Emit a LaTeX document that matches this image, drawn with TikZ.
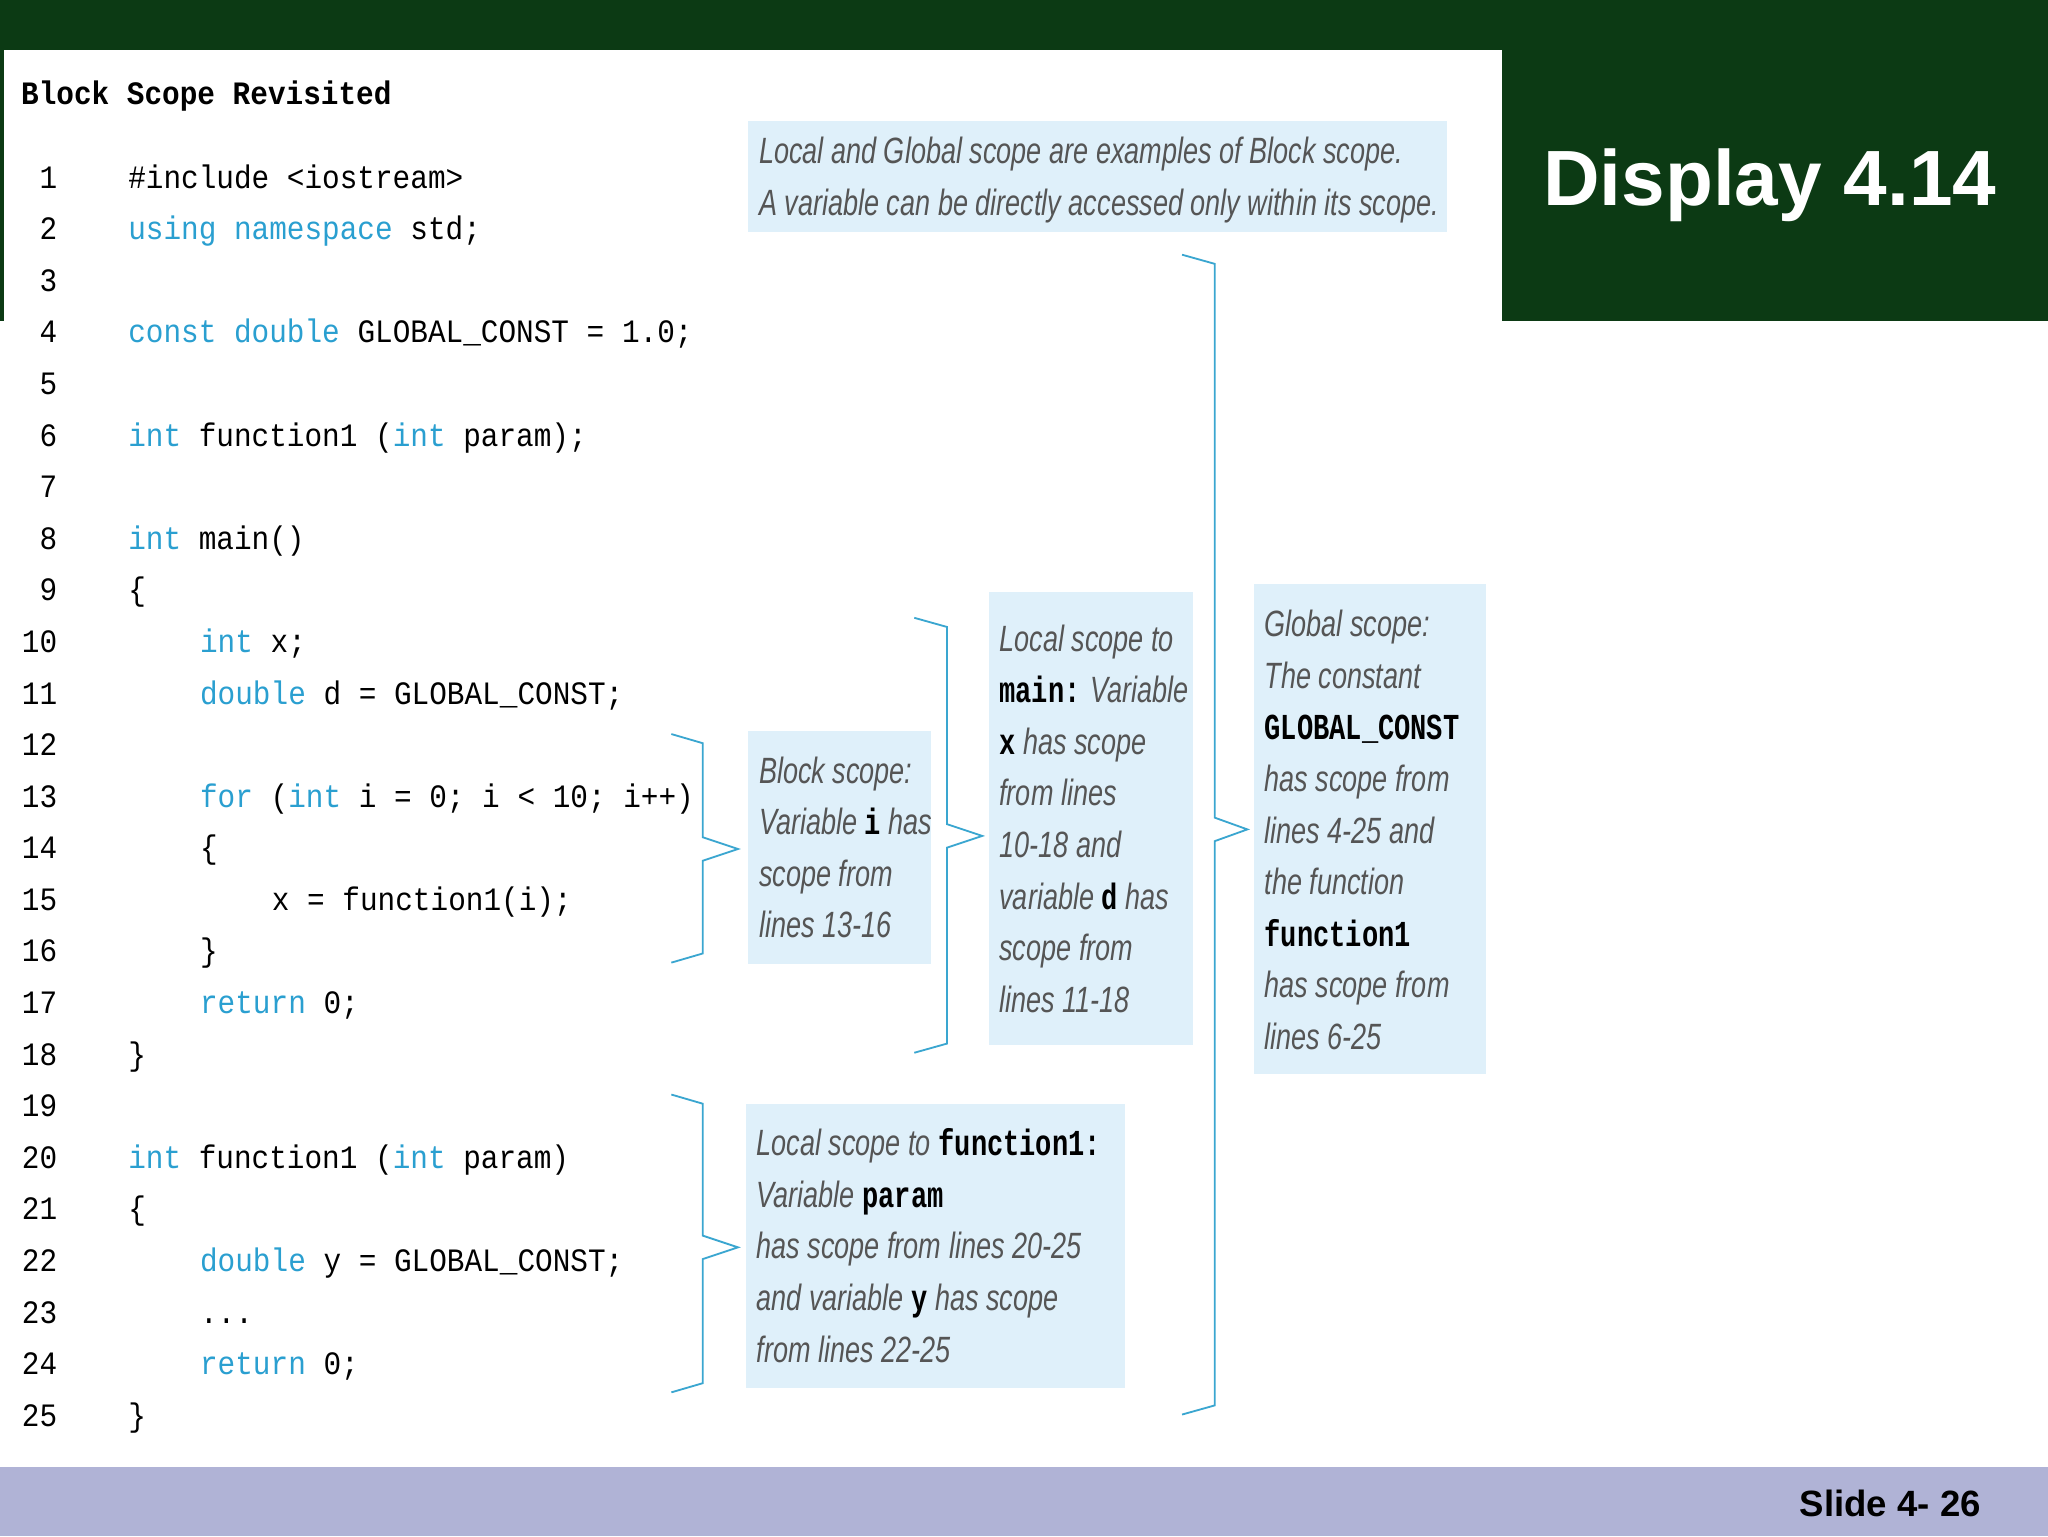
\documentclass[tikz,border=0pt]{standalone}
\usepackage{fontspec}
\setmainfont{Liberation Sans}
\setmonofont{Liberation Mono}
\newfontfamily\callfont{Liberation Sans}[FakeStretch=0.74]
\newfontfamily\codefont{Liberation Mono}[FakeStretch=0.9]
\newfontfamily\cbfont{Liberation Mono}[FakeStretch=0.74]
\usetikzlibrary{positioning}
\definecolor{slidegreen}{HTML}{0C3A14}
\definecolor{barblue}{HTML}{B0B3D6}
\definecolor{kwblue}{HTML}{2A9FD0}
\definecolor{boxblue}{HTML}{DFF0FA}
\definecolor{bracecol}{HTML}{3AA6D0}
\definecolor{notegray}{HTML}{555555}
\newcommand{\kw}[1]{\textcolor{kwblue}{#1}}
\newcommand{\cb}[1]{{\cbfont\upshape\bfseries\color{black}#1}}
\tikzset{
  codeline/.style={anchor=base west,inner sep=0pt,font=\codefont\fontsize{25}{30}\selectfont},
  lineno/.style={anchor=base east,inner sep=0pt,font=\codefont\fontsize{25}{30}\selectfont},
  note/.style={anchor=north west,inner sep=0pt,align=left,text=notegray,
    font=\callfont\itshape\fontsize{28}{39.5}\selectfont},
  notebox/.style={fill=boxblue,draw=none},
  brace/.style={draw=bracecol,line width=1.4pt,line join=miter}
}
\begin{document}
\begin{tikzpicture}[x=1pt,y=-1pt]
    \useasboundingbox (0,0) rectangle (1568,1176);
    % Slide frame
    \fill[slidegreen] (0,0) rectangle (1568,38);
    \fill[slidegreen] (1150,38) rectangle (1568,246);
    \fill[slidegreen] (0,38) rectangle (3,246);
    \fill[barblue] (0,1123) rectangle (1568,1176);
    \node[text=white,font=\bfseries\fontsize{60}{60}\selectfont] (title) at (1355,142) {Display 4.14};
    \node[anchor=east,font=\bfseries\fontsize{28}{28}\selectfont] (slide) at (1520,1151) {Slide 4- 26};
    \node[anchor=base west,inner sep=0pt,font=\codefont\bfseries\fontsize{25}{30}\selectfont] (head) at (16,80) {Block Scope Revisited};

    % Line numbers
    \foreach \n in {1,...,25}
        \node[lineno] (n\n) at (44,{135+(\n-1)*39.5+9}) {\n};

    % Code
    \node[codeline] (c1) at (98,144) {\#include <iostream>};
    \node[codeline] (c2) at (98,183.5) {\kw{using namespace} std;};
    \node[codeline] (c4) at (98,262.5) {\kw{const double} GLOBAL\_CONST = 1.0;};
    \node[codeline] (c6) at (98,341.5) {\kw{int} function1 (\kw{int} param);};
    \node[codeline] (c8) at (98,420.5) {\kw{int} main()};
    \node[codeline] (c9) at (98,460) {\{};
    \node[codeline] (c10) at (153,499.5) {\kw{int} x;};
    \node[codeline] (c11) at (153,539) {\kw{double} d = GLOBAL\_CONST;};
    \node[codeline] (c13) at (153,618) {\kw{for} (\kw{int} i = 0; i < 10; i++)};
    \node[codeline] (c14) at (153,657.5) {\{};
    \node[codeline] (c15) at (208,697) {x = function1(i);};
    \node[codeline] (c16) at (153,736.5) {\}};
    \node[codeline] (c17) at (153,776) {\kw{return} 0;};
    \node[codeline] (c18) at (98,815.5) {\}};
    \node[codeline] (c20) at (98,894.5) {\kw{int} function1 (\kw{int} param)};
    \node[codeline] (c21) at (98,934) {\{};
    \node[codeline] (c22) at (153,973.5) {\kw{double} y = GLOBAL\_CONST;};
    \node[codeline] (c23) at (153,1013) {...};
    \node[codeline] (c24) at (153,1052.5) {\kw{return} 0;};
    \node[codeline] (c25) at (98,1092) {\}};

    % Callout boxes
    \fill[notebox] (573,93) rectangle (1108,178);
    \node[note] (top) at (581,105) {Local and Global scope are examples of Block scope.\\A variable can be directly accessed only within its scope.};
    \fill[notebox] (573,560) rectangle (713,738);
    \node[note] (blk) at (581,579) {Block scope:\\Variable \cb{i} has\\scope from\\lines 13-16};
    \fill[notebox] (757,453) rectangle (913,800);
    \node[note] (mn) at (765,478) {Local scope to\\\cb{main:} Variable\\\cb{x} has scope\\from lines\\10-18 and\\variable \cb{d} has\\scope from\\lines 11-18};
    \fill[notebox] (960,447) rectangle (1138,822);
    \node[note] (glb) at (968,467) {Global scope:\\The constant\\\cb{GLOBAL\_CONST}\\has scope from\\lines 4-25 and\\the function\\\cb{function1}\\has scope from\\lines 6-25};
    \fill[notebox] (571,845) rectangle (861,1063);
    \node[note] (fn) at (579,864) {Local scope to \cb{function1:}\\Variable \cb{param}\\has scope from lines 20-25\\and variable \cb{y} has scope\\from lines 22-25};

    % Braces
    \draw[brace] (514,562) -- (538,569) -- (538,641) -- (565,650) -- (538,659) -- (538,730) -- (514,737);
    \draw[brace] (700,473) -- (725,480) -- (725,631) -- (752,640) -- (725,649) -- (725,799) -- (700,806);
    \draw[brace] (514,838) -- (538,845) -- (538,946) -- (565,955) -- (538,964) -- (538,1059) -- (514,1066);
    \draw[brace] (905,195) -- (930,202) -- (930,626) -- (955,635) -- (930,644) -- (930,1076) -- (905,1083);
\end{tikzpicture}
\end{document}
